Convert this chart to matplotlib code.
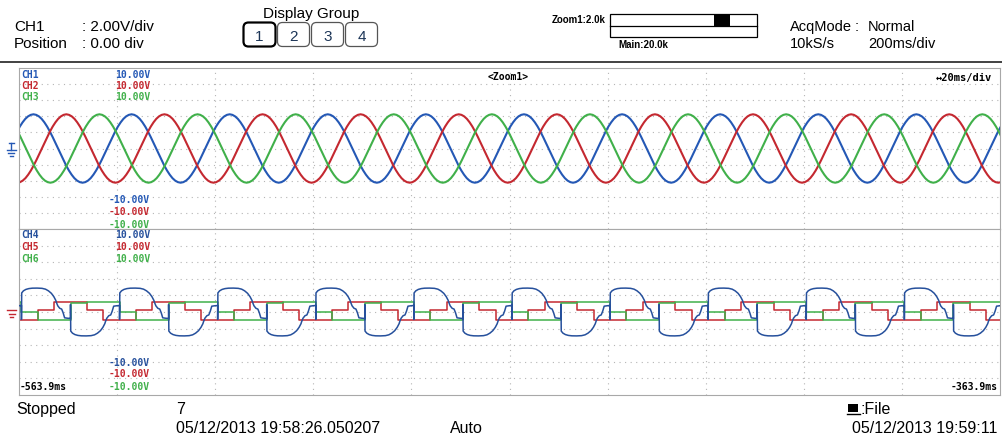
import numpy as np
import matplotlib.pyplot as plt
from matplotlib.patches import FancyBboxPatch, Rectangle

# time window of the zoom view (ms)
t_start = -563.9
t_end = -363.9
period = 20.0

# upper group: one period of a phase voltage, 10 deg steps (V)
sine_wave = [0.0, 0.73, 1.45, 2.12, 2.73, 3.25, 3.68, 3.99, 4.18, 4.25, 4.18, 3.99,
             3.68, 3.25, 2.73, 2.12, 1.45, 0.73, 0.0, -0.73, -1.45, -2.12, -2.73, -3.25,
             -3.68, -3.99, -4.18, -4.25, -4.18, -3.99, -3.68, -3.25, -2.73, -2.12, -1.45, -0.73]
# rising zero crossing of CH1, CH2, CH3 (ms)
upper_cross = [-565.95, -559.25, -552.5]

# lower group: CH4 first half period (t from its rising edge in ms, V); 2nd half is mirrored
ch4_t = [0.0, 0.0, 0.05, 0.4, 0.9, 1.5, 2.2, 3.2, 4.2, 4.9, 5.5, 6.1, 6.6, 7.0, 7.1,
         7.4, 7.8, 8.2, 8.5, 8.8, 9.4, 9.95]
ch4_v = [0.8, -0.9, 2.3, 2.55, 2.72, 2.82, 2.87, 2.88, 2.85, 2.75, 2.55, 2.25, 1.85, 1.4, 1.2,
         0.75, 0.45, 0.35, -0.1, -0.7, -0.75, -0.78]
# CH5 / CH6 levels for each sixth of a period (V)
ch5_levels = [-1.0, 0.3, 1.2, 1.2, 0.3, -1.0]
ch6_levels = [0.0, -1.0, -1.0, 1.05, 1.2, 1.2]
lower_edge = -563.4

blue, red, green = '#2458b5', '#c42830', '#40b04a'
blue2 = '#26509c'
grid_c = '#b5b5b5'

fig = plt.figure(figsize=(10.03, 4.38), dpi=100)

W, H = 1003.0, 438.0
def pane(top, bottom):
    ax = fig.add_axes([19 / W, 1 - bottom / H, 981 / W, (bottom - top) / H])
    ax.set_xlim(t_start, t_end)
    ax.set_ylim(-10, 10)
    ax.set_xticks([])
    ax.set_yticks([])
    for s in ax.spines.values():
        s.set_color('#a8a8a8')
        s.set_linewidth(0.8)
    for i in range(1, 10):
        ax.axvline(t_start + 20 * i, color=grid_c, lw=0.8, ls=(0, (1, 4)), zorder=0)
    for v in range(-8, 10, 2):
        ax.axhline(v, color=grid_c, lw=0.8, ls=(0, (1, 4)), zorder=0)
    return ax

ax1 = pane(68, 229)
ax2 = pane(229, 395)

# upper traces
for c0, col in zip(upper_cross, [blue, red, green]):
    ts, vs = [], []
    for k in range(-1, 11):
        for j, v in enumerate(sine_wave):
            ts.append(c0 + k * period + j * period / len(sine_wave))
            vs.append(v)
    ax1.plot(ts, vs, color=col, lw=1.5)

# lower traces
ts, vs = [], []
for k in range(-2, 24):
    sign = 1 if k % 2 == 0 else -1
    for t, v in zip(ch4_t, ch4_v):
        ts.append(lower_edge + k * period / 2 + t)
        vs.append(sign * v)
ax2.plot(ts, vs, color=blue2, lw=1.1, zorder=3)

for lev, col in [(ch5_levels, red), (ch6_levels, green)]:
    ts, vs = [], []
    for k in range(-1, 11):
        for j, v in enumerate(lev):
            ts.append(lower_edge + k * period + j * period / 6)
            vs.append(v)
    ax2.plot(ts, vs, color=col, lw=1.1, drawstyle='steps-post', zorder=2)

# overlay in pixel coords for all the instrument text
ov = fig.add_axes([0, 0, 1, 1], zorder=5)
ov.set_xlim(0, W)
ov.set_ylim(H, 0)
ov.axis('off')
ov.patch.set_alpha(0)

fam = ['Liberation Sans', 'DejaVu Sans']
hdr = dict(family=fam, fontsize=11, color='black')
ov.text(14, 31, 'CH1', **hdr)
ov.text(82, 31, ': 2.00V/div', **hdr)
ov.text(14, 48, 'Position', **hdr)
ov.text(82, 48, ': 0.00 div', **hdr)
ov.text(311, 18, 'Display Group', ha='center', family=fam, fontsize=11)
for i, x in enumerate([243, 277, 311, 345]):
    ov.add_patch(FancyBboxPatch((x + 2, 24), 29, 21, boxstyle='round,pad=1.5,rounding_size=5',
                                fc='white', ec='black' if i == 0 else '#555555',
                                lw=1.6 if i == 0 else 0.9))
    ov.text(x + 16.5, 41, str(i + 1), ha='center', family=fam, fontsize=11,
            color='#1c3557')

small = dict(family=fam, fontsize=7, fontweight='bold')
ov.text(606, 23, 'Zoom1:2.0k', ha='right', **small)
ov.add_patch(Rectangle((610, 14), 147, 23, fc='white', ec='black', lw=0.9))
ov.plot([610, 757], [26, 26], color='black', lw=0.9)
ov.add_patch(Rectangle((714, 14), 16, 12, fc='black', ec='black', lw=0))
ov.text(618, 48, 'Main:20.0k', **small)

acq = dict(family=fam, fontsize=10.5, color='black')
ov.text(790, 31, 'AcqMode', **acq)
ov.text(855, 31, ':', **acq)
ov.text(868, 31, 'Normal', **acq)
ov.text(790, 48, '10kS/s', **acq)
ov.text(868, 48, '200ms/div', **acq)

ov.plot([0, W], [62, 62], color='#333333', lw=1.3)

lab = dict(family=['DejaVu Sans Mono'], fontsize=7, fontweight='bold')
for name, col, y in [('CH1', blue, 78), ('CH2', red, 89), ('CH3', green, 100.5),
                     ('CH4', blue2, 238), ('CH5', red, 250), ('CH6', green, 262)]:
    ov.text(21, y, name, color=col, **lab)
    ov.text(150, y, '10.00V', color=col, ha='right', **lab)
for col, y in [(blue, 203), (red, 215), (green, 227.5),
               (blue2, 365.5), (red, 377), (green, 390)]:
    ov.text(150, y, '-10.00V', color=col, ha='right', **lab)
ov.text(20, 390, '-563.9ms', color='black', **lab)
ov.text(998, 390, '-363.9ms', color='black', ha='right', **lab)
ov.text(508, 80, '<Zoom1>', color='black', ha='center', **lab)
ov.text(992, 81, '\u219420ms/div', color='black', ha='right',
        family=['DejaVu Sans Mono'], fontsize=7.5, fontweight='bold')

# ground markers
ov.plot([9, 14], [143, 143], color=blue, lw=1)
ov.plot([11.5, 11.5], [143, 150], color=blue, lw=1)
for y, hw in [(150, 4.5), (153, 3), (156, 1.5)]:
    ov.plot([11.5 - hw, 11.5 + hw], [y, y], color=blue, lw=1)
for y, hw in [(310, 4.5), (313.5, 3), (317, 1.5)]:
    ov.plot([12 - hw, 12 + hw], [y, y], color=red, lw=1)

bot = dict(family=fam, fontsize=11.5, color='black')
ov.text(16, 414, 'Stopped', **bot)
ov.text(176, 414, '7', **bot)
ov.text(176, 433, '05/12/2013 19:58:26.050207', **bot)
ov.text(450, 433, 'Auto', **bot)
ov.add_patch(Rectangle((848, 404), 10, 8, fc='black', ec='black', lw=0))
ov.plot([847, 860], [413.5, 413.5], color='black', lw=1)
ov.text(861, 414, ':File', **bot)
ov.text(997, 433, '05/12/2013 19:59:11', ha='right', **bot)

fig.savefig('out.png', dpi=100)
